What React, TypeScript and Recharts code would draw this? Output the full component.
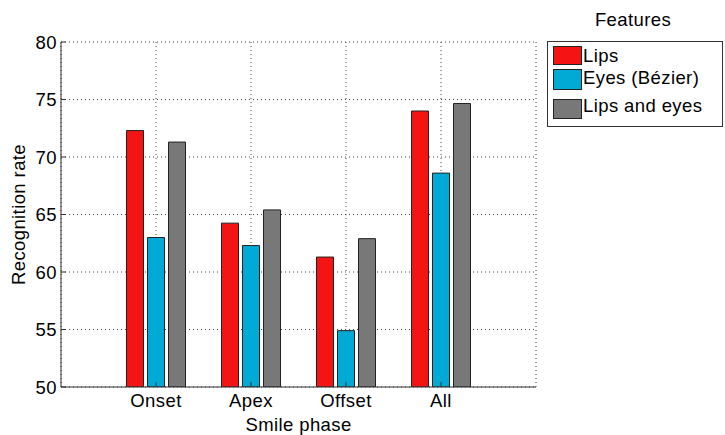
import React from 'react';
import { BarChart, Bar, XAxis, YAxis, CartesianGrid, Legend, Label } from 'recharts';

const phases = ['Onset', 'Apex', 'Offset', 'All'];
const lips = [72.3, 64.25, 61.3, 74.0];
const eyes = [63.0, 62.3, 54.9, 68.6];
const lipsEyes = [71.3, 65.4, 62.9, 74.65];
const yTicks = [50, 55, 60, 65, 70, 75, 80];
const seriesKeys = ['lips', 'eyes', 'lipsEyes'];
const seriesNames = ['Lips', 'Eyes (Bézier)', 'Lips and eyes'];
const seriesColors = ['#F41414', '#00AAD4', '#787878'];
const legendTitle = 'Features';
const xTitle = 'Smile phase';
const yTitle = 'Recognition rate';

const data = phases.map((p, i) => ({ phase: p, lips: lips[i], eyes: eyes[i], lipsEyes: lipsEyes[i] }));

const FONT = '"Liberation Sans", Arial, Helvetica, sans-serif';
const FS = 18.5;
const LS = 0.4;
const AXIS = '#333';

const swatchRows = [
  { top: 46, h: 19, textTop: 47.1 },
  { top: 69, h: 21, textTop: 69.1 },
  { top: 99, h: 20, textTop: 97.1 },
];

const LegendBox = () => (
  <div style={{ position: 'relative', width: 195, height: 135, fontFamily: FONT, fontSize: FS, letterSpacing: LS, color: '#000', lineHeight: '17px' }}>
    <div style={{ position: 'absolute', left: 0, width: 206, top: 11.1, textAlign: 'center', whiteSpace: 'nowrap' }}>{legendTitle}</div>
    <div style={{ position: 'absolute', left: 16.5, top: 41, width: 176, height: 86, border: '1px solid #333', boxSizing: 'border-box', background: '#fff' }} />
    {seriesNames.map((n, i) => (
      <React.Fragment key={n}>
        <div style={{ position: 'absolute', left: 23, top: swatchRows[i].top, width: 29, height: swatchRows[i].h, background: seriesColors[i], border: '1px solid #222', boxSizing: 'border-box' }} />
        <div style={{ position: 'absolute', left: 53, top: swatchRows[i].textTop, whiteSpace: 'nowrap' }}>{n}</div>
      </React.Fragment>
    ))}
  </div>
);

const tickStyle = { fill: '#000', fontFamily: FONT, fontSize: FS, letterSpacing: LS };

export default function App() {
  return (
    <div style={{ position: 'absolute', left: 0, top: 0, width: 725, height: 435, background: '#fff' }}>
      <BarChart
        width={725}
        height={435}
        data={data}
        margin={{ top: 42, right: 189, bottom: 8, left: 0 }}
        barSize={17}
        barGap={4}
      >
        <CartesianGrid stroke="#444" strokeDasharray="1 3" />
        <XAxis
          dataKey="phase"
          height={40}
          padding={{ left: 47.5, right: 47.5 }}
          tickSize={-5}
          tickMargin={12}
          tick={tickStyle}
          stroke={AXIS}
          axisLine={{ stroke: AXIS }}
          tickLine={{ stroke: AXIS }}
        >
          <Label
            content={(props: any) => {
              const vb = props.viewBox || { x: 61, y: 387, width: 475, height: 40 };
              return (
                <text x={vb.x + vb.width / 2} y={vb.y + 43.5} textAnchor="middle" fill="#000" fontFamily={FONT} fontSize={FS} letterSpacing={LS}>
                  {xTitle}
                </text>
              );
            }}
          />
        </XAxis>
        <XAxis
          xAxisId="top"
          dataKey="phase"
          orientation="top"
          height={0}
          padding={{ left: 47.5, right: 47.5 }}
          tickSize={-5}
          tick={false}
          axisLine={{ stroke: AXIS }}
          tickLine={{ stroke: AXIS }}
        />
        <YAxis
          width={61}
          domain={[50, 80]}
          ticks={yTicks}
          type="number"
          allowDataOverflow
          tickSize={-5}
          tickMargin={9}
          tick={tickStyle}
          axisLine={{ stroke: AXIS }}
          tickLine={{ stroke: AXIS }}
        >
          <Label
            content={(props: any) => {
              const vb = props.viewBox || { x: 0, y: 42, width: 61, height: 345 };
              const cx = vb.x + 24.5;
              const cy = vb.y + vb.height / 2;
              return (
                <text x={cx} y={cy} transform={`rotate(-90 ${cx} ${cy})`} textAnchor="middle" fill="#000" fontFamily={FONT} fontSize={FS} letterSpacing={LS}>
                  {yTitle}
                </text>
              );
            }}
          />
        </YAxis>
        <YAxis
          yAxisId="right"
          orientation="right"
          width={0}
          domain={[50, 80]}
          ticks={yTicks}
          type="number"
          tickSize={-5}
          tick={false}
          axisLine={{ stroke: AXIS }}
          tickLine={{ stroke: AXIS }}
        />
        <Legend
          layout="vertical"
          align="center"
          verticalAlign="middle"
          wrapperStyle={{ position: 'absolute', left: 530, top: 0, width: 195, height: 135 }}
          content={() => <LegendBox />}
        />
        {seriesKeys.map((k, i) => (
          <Bar key={k} dataKey={k} name={seriesNames[i]} fill={seriesColors[i]} stroke="#222" strokeWidth={1} isAnimationActive={false} />
        ))}
      </BarChart>
    </div>
  );
}
